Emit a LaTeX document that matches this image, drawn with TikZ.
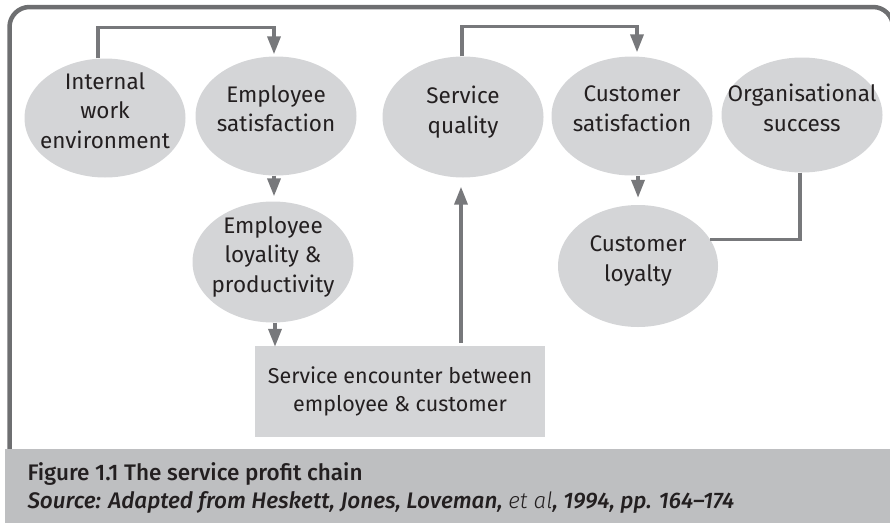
\documentclass[tikz,border=0pt]{standalone}
\usepackage{fontspec}
\setmainfont{Fira Sans}
\newfontfamily\capfont{Fira Sans Medium}[ItalicFont={Fira Sans Medium Italic}]
\newfontfamily\thinfont{Fira Sans Light}[ItalicFont={Fira Sans Light Italic}]
\usepackage{tikz}
\usetikzlibrary{arrows.meta,shapes.geometric}
\definecolor{ovalgrey}{HTML}{D4D5D7}
\definecolor{bandgrey}{HTML}{BEBFC1}
\definecolor{linkgrey}{HTML}{77787B}
\definecolor{framegrey}{HTML}{6E6F71}
\definecolor{inkcol}{HTML}{231F20}

\begin{document}
\begin{tikzpicture}[x=1pt,y=-1pt,
  font=\fontsize{22.5}{29.5}\selectfont, text=inkcol,
  oval/.style={ellipse, fill=ovalgrey, inner sep=-30pt, text depth=15pt,
    align=center, minimum width=161pt, minimum height=119pt},
  encbox/.style={rectangle, fill=ovalgrey, inner sep=0pt, align=center,
    font=\fontsize{21.5}{28}\selectfont, minimum width=290pt, minimum height=91pt},
  link/.style={draw=linkgrey, line width=3.5pt},
  flow/.style={link, -{Triangle[width=13pt,length=18pt]}},
  captext/.style={anchor=base west, font=\fontsize{22.5}{28}\capfont}]
\useasboundingbox (0,0) rectangle (890,522);
\clip (0,0) rectangle (890,522);
% outer frame, open at the bottom
\draw[framegrey, line width=4.5pt, rounded corners=20pt]
  (9.5,460) -- (9.5,7) -- (893,7) -- (893,460);
% employee side of the chain
\node[oval] (env) at (105,118) {Internal\\work\\environment};
\node[oval] (esat) at (276,116) {Employee\\satisfaction};
\node[oval, minimum height=121pt] (eloy) at (273,262) {Employee\\loyality \&\\productivity};
% the encounter itself
\node[encbox] (enc) at (400,391.5) {Service encounter between\\employee \& customer};
% customer side of the chain
\node[oval, minimum height=121pt] (squal) at (463,117) {Service\\quality};
\node[oval] (csat) at (632,116) {Customer\\satisfaction};
\node[oval, minimum height=115pt] (org) at (802,115) {Organisational\\success};
\node[oval, minimum width=160pt, minimum height=122pt] (cloy) at (638,266) {Customer\\loyalty};
% links
\draw[flow, shorten >=2pt] ([xshift=-7pt]env.north) -- ++(0,-31) -| ([xshift=-2pt]esat.north);
\draw[flow, shorten >=5pt] ([xshift=-2pt]esat.south) -- ([xshift=-2pt]esat.south |- eloy.north);
\draw[flow, shorten >=-1pt] ([xshift=2pt]eloy.south) -- ([xshift=2pt]eloy.south |- enc.north);
\draw[flow, shorten <=3pt, shorten >=9pt] ([xshift=-2pt]squal.south |- enc.north) -- ([xshift=-2pt]squal.south);
\draw[flow, shorten >=4pt] ([xshift=-1pt]squal.north) -- ++(0,-30) -| ([xshift=5pt]csat.north);
\draw[flow, shorten >=7pt] (cloy.north |- csat.south) -- (cloy.north);
\draw[link] ([xshift=-2pt]org.south) |- (cloy.20);
% caption band
\fill[bandgrey] (5,449) rectangle (895,530);
\node[captext] (figcap) at (24,480) {Figure 1.1 The service profit chain};
\node[captext] (figsrc) at (24,508)
  {\itshape Source: Adapted from Heskett, Jones, Loveman, {\thinfont\itshape et al}, 1994, pp. 164\textendash174};
\end{tikzpicture}
\end{document}
